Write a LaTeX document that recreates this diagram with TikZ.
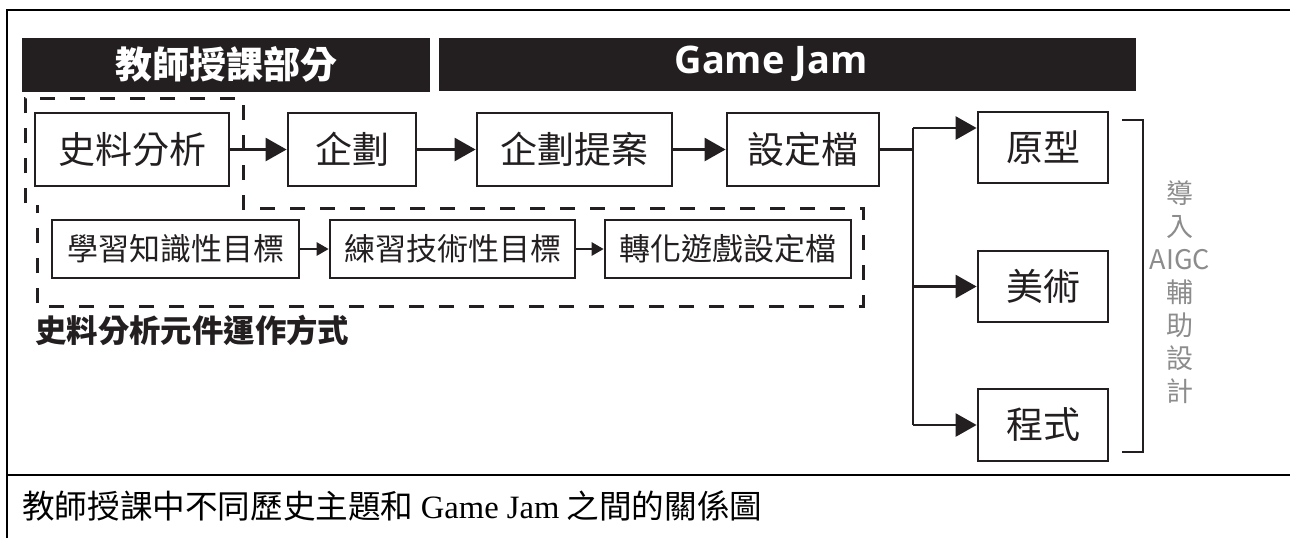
\documentclass[tikz,border=0pt]{standalone}
\usepackage{fontspec}
\setmainfont{Noto Sans CJK TC}
\newfontfamily\gjfont{Open Sans}
\newfontfamily\capserif{Liberation Serif}
\usetikzlibrary{arrows.meta}
\definecolor{ink}{HTML}{231F20}
\definecolor{softgray}{HTML}{8C8C8C}
\tikzset{
  box/.style={draw=ink, line width=1.4pt, inner sep=0pt, text=ink, font=\fontsize{18.5pt}{22pt}\selectfont, minimum height=36.5pt},
  sbox/.style={draw=ink, line width=1.3pt, inner sep=0pt, text=ink, font=\fontsize{15.5pt}{18pt}\selectfont, minimum height=29pt},
  bar/.style={fill=ink, draw=none, inner sep=0pt},
  bartext/.style={text=white, font=\fontsize{18.5pt}{22pt}\selectfont\bfseries, inner sep=0pt},
  conn/.style={draw=ink, line width=1.3pt},
  arr/.style={conn, -{Triangle[length=10.5pt,width=11.5pt]}},
  sarr/.style={conn, -{Triangle[length=6pt,width=6.5pt]}},
  dashbox/.style={draw=ink, line width=1.5pt, dash pattern=on 7.5pt off 7.5pt},
  frame/.style={draw=black, line width=1.3pt}
}
\begin{document}
\begin{tikzpicture}[x=0.5pt,y=-0.5pt]
\useasboundingbox (0,0) rectangle (1290,538);
% frame
\draw[frame] (7,538) -- (7,10) -- (1290,10);
\draw[frame] (7,475) -- (1290,475);
% header bars
\node[bar, minimum width=204pt, minimum height=27pt] (hb1) at (226,65) {};
\node[bartext] (hb1t) at (226,64) {教師授課部分};
\node[bar, minimum width=348.5pt, minimum height=26.5pt] (hb2) at (787.5,64.5) {};
\node[text=white, font=\fontsize{19pt}{22pt}\selectfont\gjfont\bfseries, inner sep=0pt] (hb2t) at (771,64) {Game Jam};
% dashed outlines
\draw[dashbox] (25,203) -- (25,98) -- (243,98) -- (243,208) -- (863,208) -- (863,306) -- (37,306) -- (37,205);
% top row
\node[box, minimum width=97pt] (sl) at (132,149.5) {史料分析};
\node[box, minimum width=64pt] (qh) at (352,149.5) {企劃};
\node[box, minimum width=97.5pt] (ta) at (574.5,149.5) {企劃提案};
\node[box, minimum width=76pt] (sd) at (803,149.5) {設定檔};
% right column
\node[box, minimum width=65pt, minimum height=35.5pt] (yx) at (1043,147.5) {原型};
\node[box, minimum width=65pt, minimum height=35.5pt] (ms) at (1043,286.5) {美術};
\node[box, minimum width=65pt, minimum height=36pt] (cs) at (1043,425) {程式};
% second row
\node[sbox, minimum width=123.5pt] (k1) at (175.5,249) {學習知識性目標};
\node[sbox, minimum width=122.5pt] (k2) at (452.5,249) {練習技術性目標};
\node[sbox, minimum width=123pt] (k3) at (728,249) {轉化遊戲設定檔};
\node[anchor=west, inner sep=0pt, text=ink, font=\fontsize{15.7pt}{18pt}\selectfont\bfseries] (sub) at (35,330) {史料分析元件運作方式};
% connectors
\draw[arr] (sl.east) -- (qh.west);
\draw[arr] (qh.east) -- (ta.west);
\draw[arr] (ta.east) -- (sd.west);
\coordinate (br) at (913,149.5);
\coordinate (bt) at (913,128);
\coordinate (bb) at (913,425);
\draw[conn] (sd.east) -- (br);
\draw[conn] (bt) -- (bb);
\draw[arr] (bt) -- (bt -| yx.west);
\draw[arr] (br |- ms) -- (ms.west);
\draw[arr] (bb) -- (cs.west);
\draw[sarr] (k1.east) -- (k2.west);
\draw[sarr] (k2.east) -- (k3.west);
% bracket
\draw[conn] (1122,120) -- (1143,120) -- (1143,452) -- (1122,452);
\node[text=softgray, align=center, inner sep=0pt, font=\fontsize{13.5pt}{16.5pt}\selectfont] (aigc) at (1180,292) {導\\入\\AIGC\\輔\\助\\設\\計};
% caption
\node[anchor=west, inner sep=0pt, text=black, font=\fontsize{16.3pt}{19pt}\selectfont] (cap) at (22,506) {教師授課中不同歷史主題和 {\capserif Game Jam} 之間的關係圖};
\end{tikzpicture}
\end{document}
